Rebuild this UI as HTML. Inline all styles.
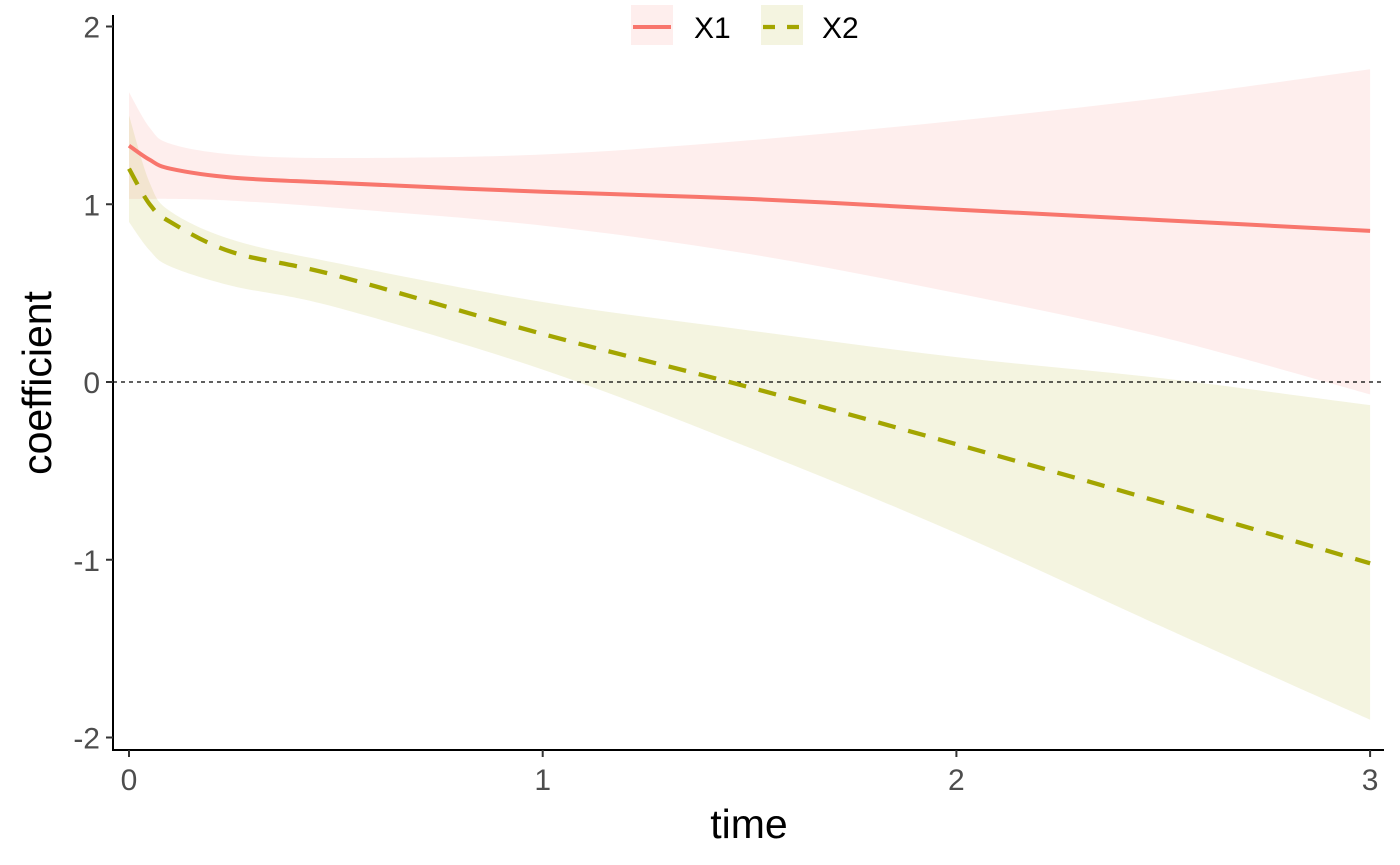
<!DOCTYPE html>
<html><head><meta charset="utf-8"><style>
html,body{margin:0;padding:0;background:#fff;}
svg{display:block;font-family:"Liberation Sans",Arial,sans-serif;}
</style></head><body>
<svg id="chart" width="1400" height="865"></svg>
<script>
const times=[0,0.05,0.1,0.25,0.5,1,1.5,2,2.5,3];
const x1Est=[1.33,1.25,1.2,1.15,1.12,1.07,1.03,0.97,0.91,0.85];
const x1Upper=[1.63,1.43,1.34,1.28,1.26,1.28,1.36,1.47,1.6,1.76];
const x1Lower=[1.03,1.03,1.03,1.02,0.98,0.88,0.72,0.5,0.25,-0.07];
const x2Est=[1.2,1.0,0.9,0.73,0.6,0.27,-0.03,-0.35,-0.68,-1.02];
const x2Upper=[1.5,1.12,0.96,0.8,0.67,0.45,0.29,0.14,0.02,-0.13];
const x2Lower=[0.9,0.74,0.65,0.54,0.42,0.07,-0.37,-0.85,-1.38,-1.9];
const xTicks=[0,1,2,3];
const yTicks=[2,1,0,-1,-2];
const xs=t=>129+t*413.7;
const ys=v=>382-v*177.75;
const NS="http://www.w3.org/2000/svg";
const svg=document.getElementById('chart');
function mk(tag,attrs,parent){const e=document.createElementNS(NS,tag);for(const k in attrs)e.setAttribute(k,attrs[k]);(parent||svg).appendChild(e);return e;}
function curve(ts,vs,cont){
 const p=ts.map((t,i)=>[xs(t),ys(vs[i])]);
 let d=(cont?'L':'M')+p[0][0].toFixed(1)+','+p[0][1].toFixed(1);
 for(let i=0;i<p.length-1;i++){
  const p0=p[Math.max(0,i-1)],p1=p[i],p2=p[i+1],p3=p[Math.min(p.length-1,i+2)];
  const c1=[p1[0]+(p2[0]-p0[0])/6,p1[1]+(p2[1]-p0[1])/6];
  const c2=[p2[0]-(p3[0]-p1[0])/6,p2[1]-(p3[1]-p1[1])/6];
  d+='C'+c1[0].toFixed(1)+','+c1[1].toFixed(1)+' '+c2[0].toFixed(1)+','+c2[1].toFixed(1)+' '+p2[0].toFixed(1)+','+p2[1].toFixed(1);
 }
 return d;
}
function band(lo,hi){return curve(times,hi,false)+curve(times.slice().reverse(),lo.slice().reverse(),true)+'Z';}
let e;
e=mk('path',{d:band(x1Lower,x1Upper),fill:'#F8766D','fill-opacity':0.12});

e=mk('path',{d:band(x2Lower,x2Upper),fill:'#A3A500','fill-opacity':0.12});

e=mk('line',{x1:113,x2:1383,y1:ys(0),y2:ys(0),stroke:'#000','stroke-width':1.3,'stroke-dasharray':'4,4'});

e=mk('path',{d:curve(times,x1Est),fill:'none',stroke:'#F8766D','stroke-width':4});

e=mk('path',{d:curve(times,x2Est),fill:'none',stroke:'#A3A500','stroke-width':4.3,'stroke-dasharray':'18,13'});

e=mk('line',{x1:113,x2:113,y1:15,y2:751,stroke:'#000','stroke-width':2});

e=mk('line',{x1:112,x2:1384,y1:750,y2:750,stroke:'#000','stroke-width':2});

xTicks.forEach(t=>{
 e=mk('line',{x1:xs(t),x2:xs(t),y1:750,y2:757,stroke:'#333','stroke-width':2});
 
 e=mk('text',{x:xs(t),y:790,'text-anchor':'middle','font-size':30,fill:'#4d4d4d'});e.textContent=t;
 
});
yTicks.forEach(v=>{
 e=mk('line',{x1:106,x2:113,y1:ys(v),y2:ys(v),stroke:'#333','stroke-width':2});
 
 e=mk('text',{x:100,y:ys(v)+11,'text-anchor':'end','font-size':30,fill:'#4d4d4d'});e.textContent=v;
 
});
e=mk('text',{x:749,y:838,'text-anchor':'middle','font-size':41,fill:'#000'});e.textContent='time';

e=mk('text',{x:0,y:0,'text-anchor':'middle','font-size':41,fill:'#000',transform:'translate(51,383) rotate(-90)'});e.textContent='coefficient';

const lg=mk('g',{});

e=mk('rect',{x:631,y:5,width:42,height:40,fill:'#F8766D','fill-opacity':0.12},lg);

e=mk('line',{x1:633,x2:671,y1:27,y2:27,stroke:'#F8766D','stroke-width':4},lg);

e=mk('text',{x:694,y:38,'font-size':30,fill:'#000'},lg);e.textContent='X1';

e=mk('rect',{x:761,y:5,width:42,height:40,fill:'#A3A500','fill-opacity':0.12},lg);

e=mk('line',{x1:763,x2:801,y1:27,y2:27,stroke:'#A3A500','stroke-width':4.3,'stroke-dasharray':'12,12'},lg);

e=mk('text',{x:822,y:38,'font-size':30,fill:'#000'},lg);e.textContent='X2';

</script>
</body></html>
